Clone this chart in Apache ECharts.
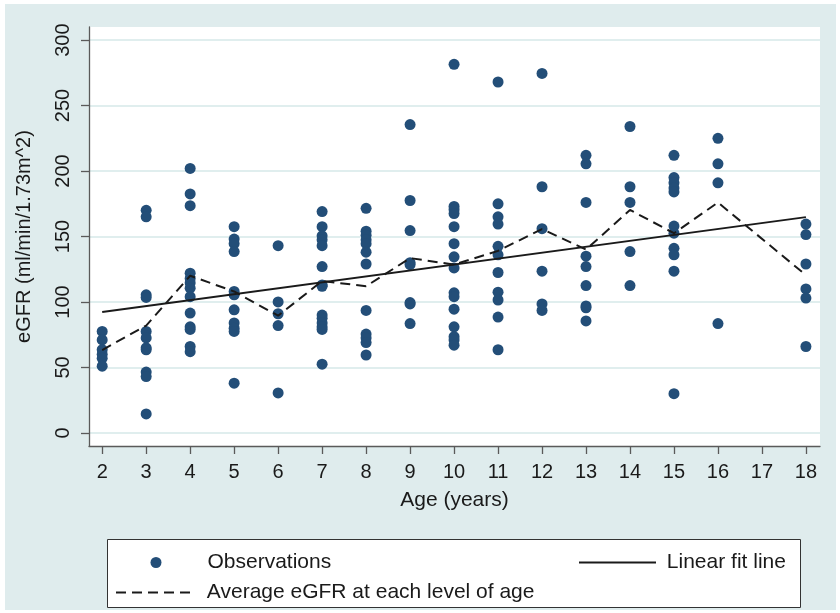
<!DOCTYPE html>
<html>
<head>
<meta charset="utf-8">
<script src="https://cdn.jsdelivr.net/npm/echarts@6/dist/echarts.min.js"></script>
<style>
html,body{margin:0;padding:0;background:#ffffff;}
#chart{width:840px;height:613px;}
</style>
</head>
<body>
<div id="chart"></div>
<script>
// Observations: age (years) and eGFR values
const obsAges = [
  2,2,2,2,2,2,
  3,3,3,3,3,3,3,3,3,3,3,
  4,4,4,4,4,4,4,4,4,4,4,4,4,
  5,5,5,5,5,5,5,5,5,5,5,
  6,6,6,6,6,
  7,7,7,7,7,7,7,7,7,7,7,7,7,7,
  8,8,8,8,8,8,8,8,8,8,8,8,
  9,9,9,9,9,9,9,9,
  10,10,10,10,10,10,10,10,10,10,10,10,10,10,10,
  11,11,11,11,11,11,11,11,11,11,11,
  12,12,12,12,12,12,
  13,13,13,13,13,13,13,13,13,
  14,14,14,14,14,
  15,15,15,15,15,15,15,15,15,15,15,
  16,16,16,16,
  18,18,18,18,18,18
];
const obsEgfr = [
  77.5,71,63.5,60,57,51,
  170,165,105.5,103.5,77.5,72.5,65,63.5,46.5,43,14.5,
  202,182.5,173.5,122,118,114.5,110.5,104,91.5,81,79,66,62,
  157.5,148,144.5,138.5,108,105.5,94,84,80,77.5,38,
  143,100,91,82,30.5,
  169,157.5,150.5,147.5,143,127,113,112,90,87.5,84,81,79,52.5,
  171.5,154,151,147.5,144.5,138,129,93.5,75.5,72.5,69,59.5,
  235.5,177.5,154.5,130,128.5,99.5,98.5,83.5,
  281.5,173,170.5,167.5,157.5,144.5,134.5,126,107,104,94.5,81,73.5,71,67,
  268,175,165,159.5,142.5,136,122.5,107.5,101.5,88.5,63.5,
  274.5,188,156,123.5,98.5,93.5,
  212,205.5,176,135,127,112.5,97,95.5,85.5,
  234,188,176,138.5,112.5,
  212,195,191,187,184,158,152.5,141,136,123.5,30,
  225,205.5,191,83.5,
  159.5,151.5,129,110,103,66
];
// Average eGFR at each level of age
const avgAges = [2,3,4,5,6,7,8,9,10,11,12,13,14,15,16,18];
const avgEgfr = [63.3,82,120,108,89.5,116,112,133.5,128.5,139,155.7,140,170.3,152.5,176,120.5];
// Linear fit line end points
const fitAges = [2,18];
const fitEgfr = [92.3,164.8];
// Tick labels
const xTicks = [2,3,4,5,6,7,8,9,10,11,12,13,14,15,16,17,18];
const yTicks = [0,50,100,150,200,250,300];

const FONT = 'Liberation Sans';
const TXT = '#1a1a1a';
const AXC = '#5a5a5a';
const LINEC = '#1a1a1a';

const chart = echarts.init(document.getElementById('chart'));
const option = {
  backgroundColor: '#ffffff',
  animation: false,
  textStyle: {fontFamily: FONT},
  graphic: [
    {type:'rect', z:-10, z2:0, silent:true, shape:{x:5,y:4,width:831,height:606}, style:{fill:'#dfeced'}},
    {type:'rect', z:-10, z2:1, silent:true, shape:{x:107.5,y:539.5,width:693,height:68}, style:{fill:'#ffffff', stroke:'#333333', lineWidth:1}}
  ],
  grid: {left:89, right:20, top:27, bottom:167, show:true, backgroundColor:'#ffffff', borderWidth:0},
  xAxis: {
    type:'value', min:1.7, max:18.32,
    name:'Age (years)', nameLocation:'middle', nameGap:44,
    nameTextStyle:{fontFamily:FONT, fontSize:21, color:TXT},
    axisLine:{show:true, onZero:false, lineStyle:{color:AXC, width:1.3}},
    axisTick:{show:true, customValues:xTicks, length:8, lineStyle:{color:AXC, width:1.3}},
    axisLabel:{customValues:xTicks, margin:16, fontFamily:FONT, fontSize:20, color:TXT},
    splitLine:{show:false}
  },
  yAxis: {
    type:'value', min:-10, max:310,
    name:'eGFR (ml/min/1.73m^2)', nameLocation:'middle', nameGap:55, nameRotate:90,
    nameTextStyle:{fontFamily:FONT, fontSize:20, color:TXT},
    axisLine:{show:true, onZero:false, lineStyle:{color:AXC, width:1.3}},
    axisTick:{show:true, customValues:yTicks, length:8, lineStyle:{color:AXC, width:1.3}},
    axisLabel:{customValues:yTicks, rotate:90, margin:16, fontFamily:FONT, fontSize:20, color:TXT},
    splitLine:{show:true, lineStyle:{color:'#e0eeee', width:2}}
  },
  legend: [
    {data:[{name:'Observations', icon:'circle'}], left:150.5, top:552, padding:0, itemWidth:11, itemHeight:11,
     selectedMode:false, formatter:'{g| }{name}',
     textStyle:{fontFamily:FONT, fontSize:21, color:TXT, rich:{g:{width:41}}}},
    {data:['Linear fit line'], left:578, top:552, padding:0, itemWidth:77, itemHeight:11,
     selectedMode:false, formatter:' {name}', itemStyle:{opacity:0},
     textStyle:{fontFamily:FONT, fontSize:21, color:TXT}},
    {data:['Average eGFR at each level of age'], left:115, top:582, padding:0, itemWidth:80, itemHeight:11,
     selectedMode:false, formatter:' {name}', itemStyle:{opacity:0},
     textStyle:{fontFamily:FONT, fontSize:21, color:TXT}}
  ],
  series: [
    {
      name:'Observations', type:'scatter', symbol:'circle', symbolSize:11,
      itemStyle:{color:'#234e78', opacity:1},
      data: obsAges.map((a,i)=>[a, obsEgfr[i]])
    },
    {
      name:'Linear fit line', type:'line', symbol:'none',
      itemStyle:{color:LINEC},
      lineStyle:{color:LINEC, width:2},
      data: fitAges.map((a,i)=>[a, fitEgfr[i]])
    },
    {
      name:'Average eGFR at each level of age', type:'line', symbol:'none',
      itemStyle:{color:LINEC},
      lineStyle:{color:LINEC, width:2, type:[10,6]},
      data: avgAges.map((a,i)=>[a, avgEgfr[i]])
    }
  ]
};
chart.setOption(option);
</script>
</body>
</html>
